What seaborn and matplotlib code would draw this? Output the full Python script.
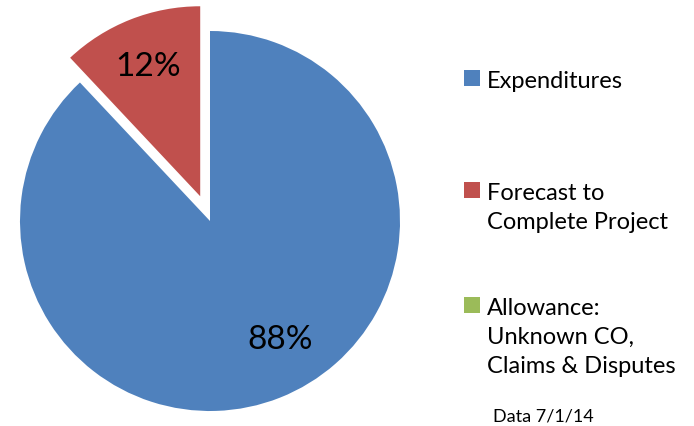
import matplotlib
matplotlib.use("Agg")
import matplotlib.pyplot as plt
import seaborn as sns

labels = ["Expenditures", "Forecast to\nComplete Project", "Allowance:\nUnknown CO,\nClaims & Disputes"]
shares = [88, 12, 0]
colors = ["#4F81BD", "#C0504D", "#9BBB59"]
explode = [0, 0.14, 0]
note = "Data 7/1/14"

sns.set_theme(style="white")
plt.rcParams["font.family"] = ["Lato", "DejaVu Sans"]
plt.rcParams["text.color"] = "black"

W, H = 694, 427
fig = plt.figure(figsize=(W / 100, H / 100), dpi=100)
cx, cy, r = 210, 205, 190
ax = fig.add_axes([(cx - r) / W, (cy - r) / H, 2 * r / W, 2 * r / H])


def pct_label(p):
    return f"{p:.0f}%" if p > 0.5 else ""


wedges, texts, autotexts = ax.pie(
    shares,
    colors=colors,
    explode=explode,
    startangle=90,
    counterclock=False,
    autopct=pct_label,
    pctdistance=0.74,
    radius=1,
    wedgeprops={"linewidth": 0},
    textprops={"fontsize": 24, "color": "black"},
)
ax.set_xlim(-1, 1)
ax.set_ylim(-1, 1)
ax.set_aspect("equal")
ax.axis("off")
for w in wedges:
    w.set_clip_on(False)

# Excel puts the big label further right than matplotlib's radial spot
autotexts[0].set_position((0.37, -0.62))

# one legend per entry so the entries sit where Excel spaced them
tops = [59, 171, 286]
for wedge, label, top in zip(wedges, labels, tops):
    leg = fig.legend(
        [wedge], [label],
        loc="upper left",
        bbox_to_anchor=(452 / W, 1 - top / H),
        frameon=False,
        fontsize=17,
        labelcolor="black",
        handlelength=0.68,
        handleheight=0.68,
        handletextpad=0.3,
        borderpad=0,
    )
    for t in leg.get_texts():
        t.set_linespacing(1.47)
    for column in leg._legend_handle_box.get_children():
        for row in column.get_children():
            row.align = "top"

fig.text(493 / W, 10 / H, note, fontsize=13, color="black", va="center", ha="left")

fig.savefig("out.png", dpi=100)
